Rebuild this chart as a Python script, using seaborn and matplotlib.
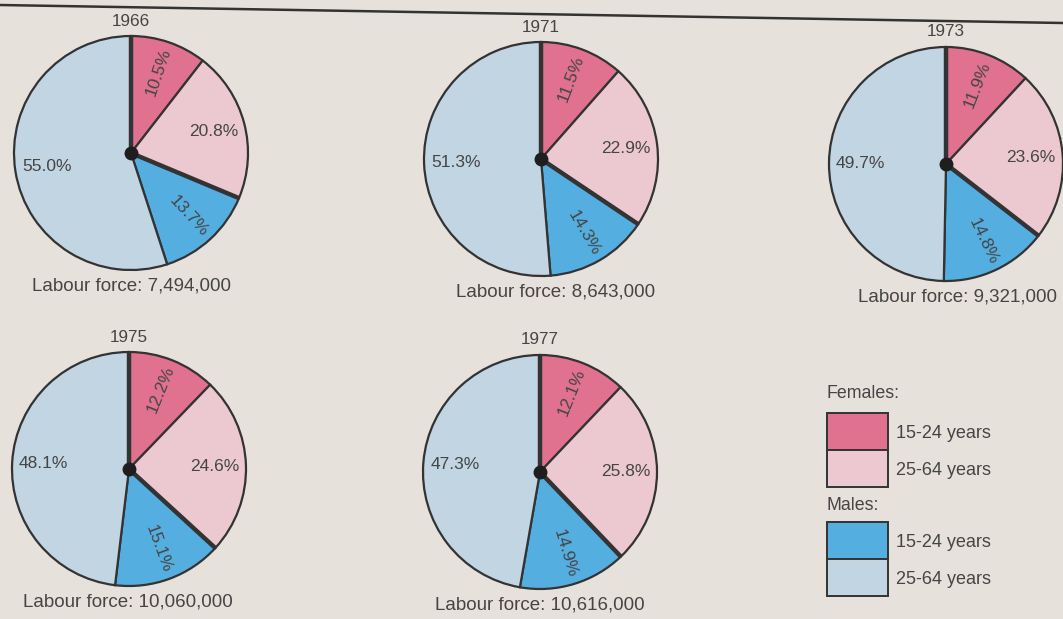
import numpy as np
import matplotlib
matplotlib.use("Agg")
import matplotlib.pyplot as plt
from matplotlib.patches import Rectangle
import seaborn as sns

# Share of the labour force by sex and age group (per cent)
years = ["1966", "1971", "1973", "1975", "1977"]
female_15_24 = [10.5, 11.5, 11.9, 12.2, 12.1]
female_25_64 = [20.8, 22.9, 23.6, 24.6, 25.8]
male_15_24 = [13.7, 14.3, 14.8, 15.1, 14.9]
male_25_64 = [55.0, 51.3, 49.7, 48.1, 47.3]
labour_force = [7494000, 8643000, 9321000, 10060000, 10616000]

group_names = ["15-24 years", "25-64 years"]

# Layout (pixels): pie centres, radius, caption offsets
W, H = 1063, 619
centres = [(131, 153), (541, 159), (946, 164), (129, 469), (540, 472)]
radius = 117
caption_dx = [1, 15, 12, -1, 0]

sns.set_theme(style="white")
plt.rcParams["font.family"] = ["Liberation Sans", "DejaVu Sans"]

bg = "#e7e1db"
ink = "#454545"
edge = "#333333"
palette = sns.color_palette(["#e0718f", "#ecc9d0", "#55aee0", "#c1d5e2"])

fig = plt.figure(figsize=(W / 100, H / 100), dpi=100, facecolor=bg)

# Full-figure canvas in pixel coordinates for captions, rule and key
canvas = fig.add_axes([0, 0, 1, 1], zorder=0)
canvas.set_xlim(0, W)
canvas.set_ylim(H, 0)
canvas.axis("off")
canvas.set_facecolor(bg)

# Rule across the top
canvas.plot([0, W], [5, 23], color=edge, lw=1.8, solid_capstyle="butt")

pad = 1.06
for i, year in enumerate(years):
    cx, cy = centres[i]
    half = radius * pad
    ax = fig.add_axes([(cx - half) / W, 1 - (cy + half) / H,
                       2 * half / W, 2 * half / H], zorder=2)
    vals = [female_15_24[i], female_25_64[i], male_15_24[i], male_25_64[i]]
    wedges, _, autotexts = ax.pie(
        vals, colors=palette, startangle=90, counterclock=False,
        autopct=lambda p: "", pctdistance=0.73,
        wedgeprops=dict(edgecolor=edge, linewidth=1.6),
        textprops=dict(color=ink, fontsize=12.5))
    total = sum(vals)
    cum = np.cumsum([0] + vals) / total
    for k, t in enumerate(autotexts):
        t.set_text(f"{vals[k]:.1f}%")
        mid = 90 - 360 * (cum[k] + cum[k + 1]) / 2
        if k in (0, 2):
            t.set_rotation(mid)
            t.set_rotation_mode("anchor")
            t.set_ha("center")
            t.set_va("center")
    # Heavier rules where the female and male groups meet
    for frac in (0.0, cum[2]):
        ang = np.deg2rad(90 - 360 * frac)
        ax.plot([0, np.cos(ang)], [0, np.sin(ang)], color=edge, lw=3.2,
                solid_capstyle="butt", zorder=3)
    ax.plot(0, 0, "o", color="#1e1e1e", ms=9, zorder=4)
    ax.set_xlim(-pad, pad)
    ax.set_ylim(-pad, pad)
    ax.set_aspect("equal")
    ax.axis("off")

    canvas.text(cx, cy - radius - 15, year, ha="center", va="center",
                fontsize=12.3, color=ink)
    canvas.text(cx + caption_dx[i], cy + radius + 16,
                f"Labour force: {labour_force[i]:,}",
                ha="center", va="center", fontsize=13.5, color=ink)

# Key
key = [("Females:", 394, 413, palette[0], palette[1]),
       ("Males:", 506, 522, palette[2], palette[3])]
for head, ty, top, c_young, c_old in key:
    canvas.text(827, ty, head, ha="left", va="center", fontsize=12.8, color=ink)
    h = 37
    for j, col in enumerate((c_young, c_old)):
        canvas.add_patch(Rectangle((827, top + j * h), 61, h, facecolor=col,
                                   edgecolor=edge, lw=1.4))
        canvas.text(896, top + j * h + h / 2 + 2, group_names[j], ha="left",
                    va="center", fontsize=13, color=ink)

fig.savefig("out.png", dpi=100, facecolor=bg)
